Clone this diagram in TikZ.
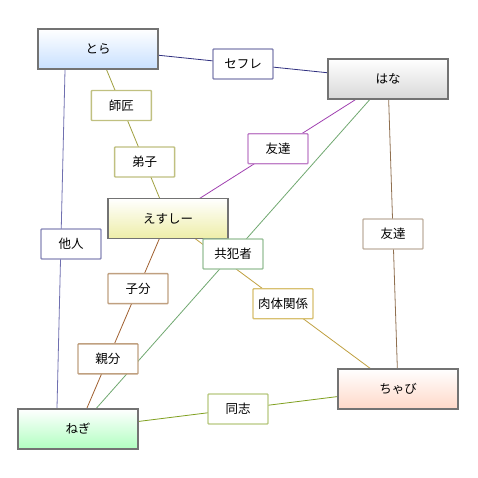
\documentclass[tikz,border=0pt]{standalone}
\usepackage{fontspec}
\setmainfont{Noto Sans CJK JP}
\usetikzlibrary{calc,backgrounds}
\definecolor{cTora}{HTML}{C8E0FF}
\definecolor{cHana}{HTML}{D8D8D8}
\definecolor{cEsu}{HTML}{EEEEA8}
\definecolor{cNegi}{HTML}{B0FFC0}
\definecolor{cChabi}{HTML}{FFD8C8}
\definecolor{lNavy}{HTML}{303080}
\definecolor{lOlive}{HTML}{A0A040}
\definecolor{lPurple}{HTML}{A040B0}
\definecolor{lBrownA}{HTML}{907050}
\definecolor{lBlue}{HTML}{7070B0}
\definecolor{lGreen}{HTML}{70A870}
\definecolor{lBrownB}{HTML}{A06030}
\definecolor{lGold}{HTML}{C0A040}
\definecolor{lOlGr}{HTML}{80A020}
\definecolor{bNavy}{HTML}{8080B0}
\definecolor{bOlive}{HTML}{C0C080}
\definecolor{bPurple}{HTML}{C080C8}
\definecolor{bBrownA}{HTML}{C0B0A0}
\definecolor{bBlue}{HTML}{8888B8}
\definecolor{bGreen}{HTML}{98C098}
\definecolor{bBrownB}{HTML}{C0A080}
\definecolor{bGold}{HTML}{D8C070}
\definecolor{bOlGr}{HTML}{B8C880}
\tikzset{
  ent/.style={draw=gray!110, line width=1.6pt, minimum width=120pt, minimum height=40pt,
    inner sep=0pt, font=\fontsize{12.5}{14}\selectfont, top color=white},
  lab/.style={draw, fill=white, line width=1.4pt, minimum width=60pt, minimum height=30pt,
    inner sep=0pt, rounded corners=0.8pt, font=\fontsize{12.5}{14}\selectfont},
  con/.style={line width=0.8pt}
}
\begin{document}
\begin{tikzpicture}[x=1pt,y=-1pt]
\useasboundingbox (0,0) rectangle (478,478);
\node[ent, bottom color=cTora] (tora) at (98,49) {とら};
\node[ent, bottom color=cHana] (hana) at (388,79) {はな};
\node[ent, bottom color=cEsu] (esu) at (168,218.5) {えすしー};
\node[ent, bottom color=cNegi] (negi) at (78,429) {ねぎ};
\node[ent, bottom color=cChabi] (chabi) at (398,389) {ちゃび};
\coordinate (toraB) at ($(tora.center)+(-32.5,0)$);
\coordinate (negiT) at ($(negi.center)+(-21.5,0)$);

\node[lab, draw=bNavy] (sefure) at ($(tora.center)!0.5!(hana.center)$) {セフレ};
\node[lab, draw=bOlive] (shisho) at ($(tora.center)!0.3333!(esu.center)$) {師匠};
\node[lab, draw=bOlive] (deshi) at ($(tora.center)!0.6667!(esu.center)$) {弟子};
\node[lab, draw=bPurple] (tomoA) at ($(hana.center)!0.5!(esu.center)$) {友達};
\node[lab, draw=bBrownA] (tomoB) at ($(hana.center)!0.5!(chabi.center)$) {友達};
\node[lab, draw=bBlue] (tanin) at (71,244) {他人};
\node[lab, draw=bGreen] (kyohan) at ($(hana.center)!0.5!(negi.center)$) {共犯者};
\node[lab, draw=bBrownB] (kobun) at ($(esu.center)!0.3333!(negi.center)$) {子分};
\node[lab, draw=bBrownB] (oyabun) at ($(esu.center)!0.6667!(negi.center)$) {親分};
\node[lab, draw=bGold] (nikutai) at ($(esu.center)!0.5!(chabi.center)$) {肉体関係};
\node[lab, draw=bOlGr] (doshi) at ($(negi.center)!0.5!(chabi.center)$) {同志};

\begin{scope}[on background layer]
\fill[white] (0,0) rectangle (478,478);
\draw[con, lNavy] (tora.center) -- (hana.center);
\draw[con, lOlive] (tora.center) -- (esu.center);
\draw[con, lPurple] (hana.center) -- (esu.center);
\draw[con, lBrownA] (hana.center) -- (chabi.center);
\draw[con, lBlue] (toraB) -- (negiT);
\draw[con, lGreen] (hana.center) -- (negi.center);
\draw[con, lBrownB] (esu.center) -- (negi.center);
\draw[con, lGold] (esu.center) -- (chabi.center);
\draw[con, lOlGr] (negi.center) -- (chabi.center);
\end{scope}
\end{tikzpicture}
\end{document}
